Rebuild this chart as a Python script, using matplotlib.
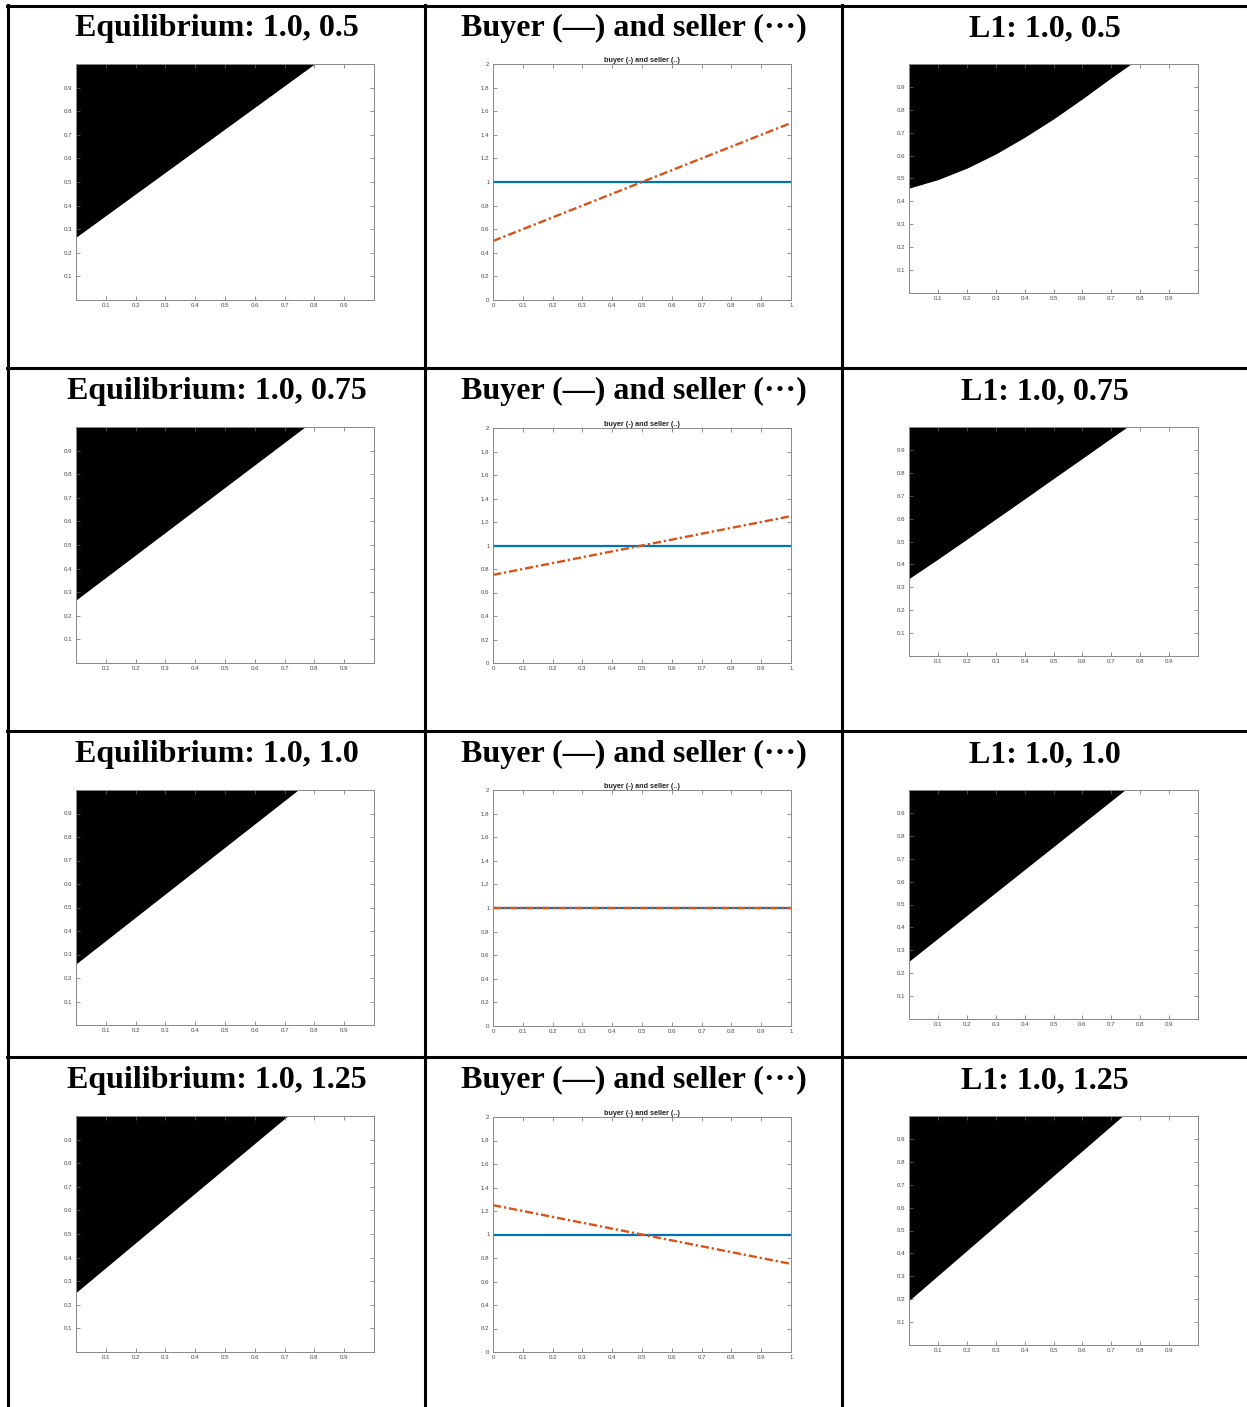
import numpy as np
import matplotlib
matplotlib.use("Agg")
import matplotlib.pyplot as plt
from matplotlib.lines import Line2D

W, H = 1247, 1407

# --- data ---
seller = ["0.5", "0.75", "1.0", "1.25"]

# equilibrium boundary (region above is black)
eq_x = [[0.0, 0.80], [0.0, 0.768], [0.0, 0.745], [0.0, 0.71]]
eq_y = [[0.266, 1.0], [0.267, 1.0], [0.26, 1.0], [0.252, 1.0]]

# L1 boundary
l1_x = [[0.0, 0.1, 0.2, 0.3, 0.4, 0.5, 0.6, 0.7, 0.768],
        [0.0, 0.1, 0.2, 0.3, 0.4, 0.5, 0.6, 0.7, 0.755],
        [0.0, 0.747],
        [0.0, 0.739]]
l1_y = [[0.458, 0.495, 0.545, 0.607, 0.68, 0.76, 0.848, 0.94, 1.0],
        [0.338, 0.423, 0.51, 0.598, 0.686, 0.775, 0.863, 0.952, 1.0],
        [0.252, 1.0],
        [0.194, 1.0]]

# buyer / seller lines over [0, 1]
line_x = [0.0, 1.0]
buyer_y = [1.0, 1.0]
seller_y = [[0.5, 1.5], [0.75, 1.25], [1.0, 1.0], [1.25, 0.75]]

unit_ticks = [0.1, 0.2, 0.3, 0.4, 0.5, 0.6, 0.7, 0.8, 0.9]
unit_labels = ["0.1", "0.2", "0.3", "0.4", "0.5", "0.6", "0.7", "0.8", "0.9"]
mid_xticks = [0, 0.1, 0.2, 0.3, 0.4, 0.5, 0.6, 0.7, 0.8, 0.9, 1]
mid_xlabels = ["0", "0.1", "0.2", "0.3", "0.4", "0.5", "0.6", "0.7", "0.8", "0.9", "1"]
mid_yticks = [0, 0.2, 0.4, 0.6, 0.8, 1, 1.2, 1.4, 1.6, 1.8, 2]
mid_ylabels = ["0", "0.2", "0.4", "0.6", "0.8", "1", "1.2", "1.4", "1.6", "1.8", "2"]

# --- layout (pixels) ---
row_top = [6, 368, 731, 1057]
title_base = [36, 399, 762, 1088]
col_edges = [8, 425, 842, 1247]
col1_x = (76, 374); col2_x = (493, 791); col3_x = (909, 1198)
col1_y = [(64, 300), (427, 663), (790, 1025), (1116, 1352)]
col2_y = [(64, 300), (428, 663), (790, 1026), (1117, 1352)]
col3_y = [(64, 293), (427, 656), (790, 1019), (1116, 1345)]

fig = plt.figure(figsize=(W/100, H/100), dpi=100)

def px_axes(xr, yr):
    l, r = xr; t, b = yr
    return fig.add_axes([l/W, 1 - b/H, (r - l)/W, (b - t)/H])

def style(ax):
    ax.tick_params(direction="in", top=True, right=True, length=3, width=0.5,
                   color="#666666", labelcolor="#4a4a4a", labelsize=4.4, pad=2.5)
    for s in ax.spines.values():
        s.set_color("#888888"); s.set_linewidth(0.7)
    for lab in ax.get_xticklabels() + ax.get_yticklabels():
        lab.set_family("Liberation Sans")

def region(ax, bx, by):
    ax.fill_between(bx, by, 1, color="black", lw=0)
    ax.set_xlim(0, 1); ax.set_ylim(0, 1)
    ax.set_xticks(unit_ticks, unit_labels)
    ax.set_yticks(unit_ticks, unit_labels)
    style(ax)

tfont = dict(family="Liberation Serif", fontweight="bold", fontsize=23,
             ha="center", va="baseline")
for i, s in enumerate(seller):
    cx = [(col_edges[k] + col_edges[k+1]) / 2 for k in range(3)]
    fig.text(cx[0]/W, 1 - title_base[i]/H, f"Equilibrium: 1.0, {s}", **tfont)
    fig.text(cx[1]/W, 1 - title_base[i]/H, "Buyer (\u2014) and seller (\u00b7\u00b7\u00b7)", **tfont)
    fig.text(cx[2]/W, 1 - title_base[i]/H, f"L1: 1.0, {s}", **tfont)

    a1 = px_axes(col1_x, col1_y[i])
    region(a1, eq_x[i], eq_y[i])

    a2 = px_axes(col2_x, col2_y[i])
    a2.plot(line_x, buyer_y, color="#0072BD", lw=1.6)
    a2.plot(line_x, seller_y[i], color="#D95319", lw=1.7, ls=(0, (3.5, 1.2, 1, 1.2)))
    a2.set_xlim(0, 1); a2.set_ylim(0, 2)
    a2.set_xticks(mid_xticks, mid_xlabels)
    a2.set_yticks(mid_yticks, mid_ylabels)
    a2.set_title("buyer (-) and seller (..)", fontsize=5.2, fontweight="bold",
                 family="Liberation Sans", color="#222222", pad=1.5)
    style(a2)

    a3 = px_axes(col3_x, col3_y[i])
    region(a3, l1_x[i], l1_y[i])

# --- table borders ---
lw = 2.2
def hline(y, x0, x1):
    fig.add_artist(Line2D([x0/W, x1/W], [1 - y/H, 1 - y/H], color="black", lw=lw,
                          transform=fig.transFigure))
def vline(x, y0, y1):
    fig.add_artist(Line2D([x/W, x/W], [1 - y0/H, 1 - y1/H], color="black", lw=lw,
                          transform=fig.transFigure))

for y in row_top:
    hline(y, col_edges[0] - 1, W)
for x in col_edges[:3]:
    vline(x, row_top[0] - 1, H)

fig.savefig("out.png", dpi=100)
